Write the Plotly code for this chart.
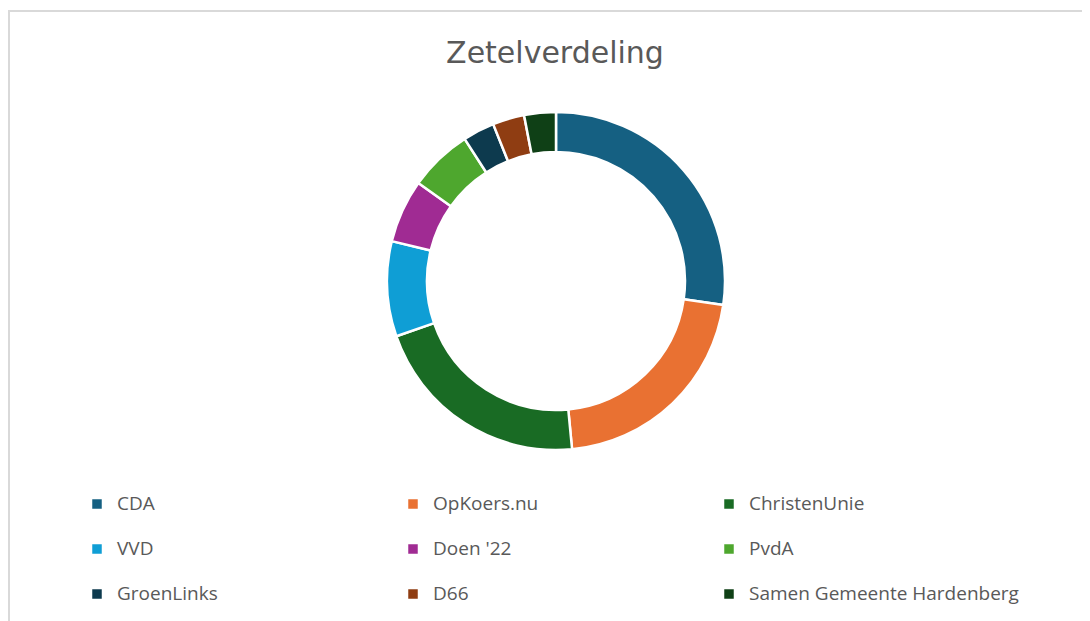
import plotly.graph_objects as go

# Page is rendered with the browser's default 8px body margin
OFF = 8
W, H = 1090 - OFF, 621 - OFF

parties = ["CDA", "OpKoers.nu", "ChristenUnie", "VVD", "Doen '22", "PvdA",
           "GroenLinks", "D66", "Samen Gemeente Hardenberg"]
seats = [9, 7, 7, 3, 2, 2, 1, 1, 1]
colors = ["#156082", "#E97132", "#196B24", "#0F9ED5", "#A02B93", "#4EA72E",
          "#0D3A4E", "#8F3D12", "#0F4016"]

title_text = "Zetelverdeling"
text_color = "#595959"
legend_font_px = 19
row_font = 16.15  # controls legend row spacing


def px_x(px):
    return (px - OFF) / W


def px_y(py):
    return 1 - (py - OFF) / H


legend_labels = [f"<span style='font-size:{legend_font_px}px'>{p}</span><br> " for p in parties]

cx, cy, r_out, r_in = 556, 281, 169, 129

fig = go.Figure(go.Pie(
    labels=legend_labels,
    values=seats,
    sort=False,
    direction="clockwise",
    rotation=0,
    hole=r_in / r_out,
    marker=dict(colors=colors, line=dict(color="white", width=2.5)),
    textinfo="none",
    hoverinfo="skip",
    domain=dict(x=[px_x(cx - r_out), px_x(cx + r_out)],
                y=[px_y(cy + r_out), px_y(cy - r_out)]),
))

fig.update_layout(
    width=W, height=H,
    margin=dict(l=0, r=0, t=0, b=0, autoexpand=False),
    paper_bgcolor="white",
    plot_bgcolor="white",
    title=dict(text=title_text, x=px_x(555), xanchor="center", y=px_y(52), yanchor="middle",
               font=dict(family="DejaVu Sans", size=30, color=text_color)),
    showlegend=True,
    legend=dict(
        orientation="h",
        x=px_x(77), xanchor="left",
        y=px_y(487), yanchor="top",
        entrywidth=271, entrywidthmode="pixels",
        valign="top",
        font=dict(family="Open Sans", size=row_font, color=text_color),
        bgcolor="rgba(0,0,0,0)",
        traceorder="normal",
    ),
    shapes=[
        dict(type="line", xref="paper", yref="paper", x0=1 / W, x1=1 / W, y0=0, y1=px_y(11),
             line=dict(color="#D9D9D9", width=2)),
        dict(type="line", xref="paper", yref="paper", x0=0, x1=1, y0=px_y(11), y1=px_y(11),
             line=dict(color="#D9D9D9", width=2)),
    ],
)

fig.write_html("out.html")
